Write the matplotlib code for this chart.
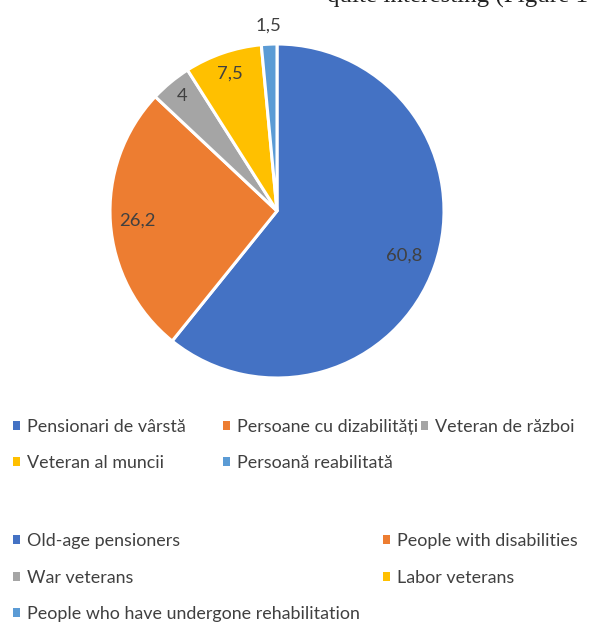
"""Pie chart: structure of beneficiaries (RO / EN legends)."""
import matplotlib
matplotlib.use('Agg')
import matplotlib.pyplot as plt
import matplotlib.patches as mpatches
import numpy as np

W, H = 594, 623

values = [60.8, 26.2, 4, 7.5, 1.5]
value_labels = ['60,8', '26,2', '4', '7,5', '1,5']
labels_ro = ['Pensionari de vârstă', 'Persoane cu dizabilități', 'Veteran de război',
             'Veteran al muncii', 'Persoană reabilitată']
labels_en = ['Old-age pensioners', 'People with disabilities', 'War veterans',
             'Labor veterans', 'People who have undergone rehabilitation']
colors = ['#4472C4', '#ED7D31', '#A5A5A5', '#FFC000', '#5B9BD5']

# label distance from centre (fraction of radius) per slice
label_dist = [0.81, 0.84, 0.89, 0.87, 1.11]

plt.rcParams['font.family'] = ['Lato', 'DejaVu Sans']

fig = plt.figure(figsize=(W / 100, H / 100), dpi=100)

# pie axes: centre (277, 211) px, radius 167 px
cx, cy, r = 277, 211, 167
ax = fig.add_axes([(cx - r) / W, (H - cy - r) / H, 2 * r / W, 2 * r / H])
wedges, _ = ax.pie(values, colors=colors, startangle=90, counterclock=False,
                   wedgeprops=dict(edgecolor='white', linewidth=2.2))
ax.set_xlim(-1, 1)
ax.set_ylim(-1, 1)
ax.set_aspect('auto')
ax.axis('off')

for w, txt, d in zip(wedges, value_labels, label_dist):
    ang = np.deg2rad((w.theta1 + w.theta2) / 2)
    ax.text(d * np.cos(ang), d * np.sin(ang), txt, ha='center', va='center',
            fontsize=13.3, color='#404040', clip_on=False)

# cropped line of body text at the top edge (only its lower part shows)
fig.text(327 / W, 1 - 3 / H, 'quite interesting (Figure 1', family='Liberation Serif',
         fontsize=18, color='#222222', ha='left', va='baseline')


def entry(x, y, color, text):
    h = mpatches.Patch(facecolor=color, edgecolor='none')
    fig.legend(handles=[h], labels=[text], loc='center left',
               bbox_to_anchor=(x / W, 1 - y / H), frameon=False,
               handlelength=0.4, handleheight=0.4, handletextpad=0.4,
               borderpad=0, borderaxespad=0, fontsize=12.9, labelcolor='#404040')


ro_pos = [(13, 427), (223, 427), (421, 427), (13, 463), (223, 463)]
en_pos = [(13, 541), (383, 541), (13, 578), (383, 578), (13, 614)]
for (x, y), c, t in zip(ro_pos, colors, labels_ro):
    entry(x, y, c, t)
for (x, y), c, t in zip(en_pos, colors, labels_en):
    entry(x, y, c, t)

fig.savefig('out.png', dpi=100)
